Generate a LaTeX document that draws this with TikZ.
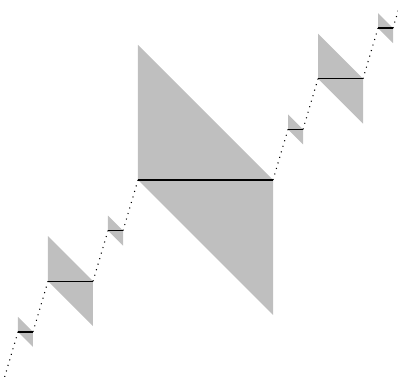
\documentclass[tikz,border=0pt]{standalone}
\usetikzlibrary{calc}
\begin{document}
\begin{tikzpicture}[x=10cm, y=10cm,
    wedge/.style={fill=gray!50, draw=none},
    flat/.style={line width=1pt, black},
    link/.style={line width=0.75pt, black, dash pattern=on 0.75pt off 3.3pt}
  ]
    \path[use as bounding box, clip] (-0.0074,0.0160) rectangle (0.9753,0.9444);

    % End points
    \coordinate (start) at (0,0);
    \coordinate (stop)  at (1,1);

    % Flat pieces: name / left / right (in 27ths) / height (in 8ths)
    \foreach \nm/\xa/\xb/\yy in {c1/1/2/1, b1/3/6/2, c2/7/8/3, a/9/18/4,
                                 c3/19/20/5, b2/21/24/6, c4/25/26/7}
    {
      \coordinate (\nm-l) at (\xa/27, \yy/8);
      \coordinate (\nm-r) at (\xb/27, \yy/8);
      \fill[wedge] (\nm-l) -- ++(0,\xb/27-\xa/27) -- (\nm-r)
                   -- ++(0,\xa/27-\xb/27) -- cycle;
      \draw[flat] (\nm-l) -- (\nm-r);
    }

    % Dotted rises between the flat pieces
    \draw[link] (start) -- (c1-l);
    \draw[link] (c1-r)  -- (b1-l);
    \draw[link] (b1-r)  -- (c2-l);
    \draw[link] (c2-r)  -- (a-l);
    \draw[link] (a-r)   -- (c3-l);
    \draw[link] (c3-r)  -- (b2-l);
    \draw[link] (b2-r)  -- (c4-l);
    \draw[link] (c4-r)  -- (stop);
  \end{tikzpicture}
\end{document}
